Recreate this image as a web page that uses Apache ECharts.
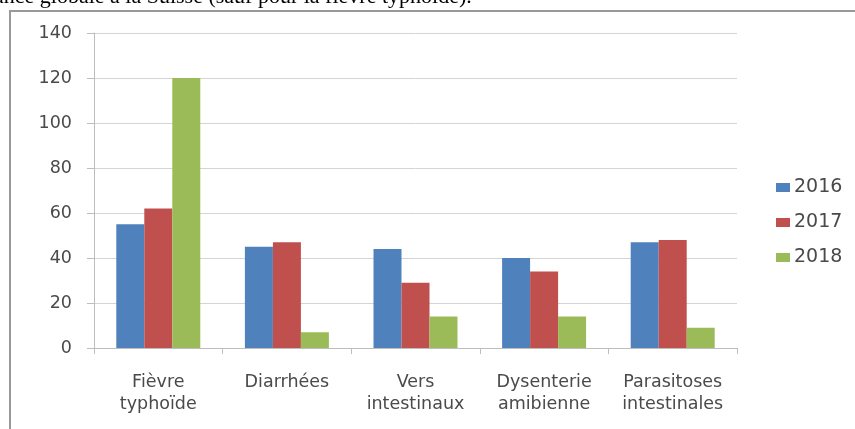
<!DOCTYPE html>
<html>
<head>
<meta charset="utf-8">
<script src="https://cdn.jsdelivr.net/npm/echarts@6/dist/echarts.min.js"></script>
<style>
  html, body { margin: 0; padding: 0; background: #ffffff; }
  #chart { width: 855px; height: 429px; }
</style>
</head>
<body>
<div id="chart"></div>
<script>
// Maladies recensées par année
const categories = ['Fièvre\ntyphoïde', 'Diarrhées', 'Vers\nintestinaux', 'Dysenterie\namibienne', 'Parasitoses\nintestinales'];
const years = ['2016', '2017', '2018'];
const values2016 = [55, 45, 44, 40, 47];
const values2017 = [62, 47, 29, 34, 48];
const values2018 = [120, 7, 14, 14, 9];
const yTicks = { min: 0, max: 140, interval: 20 };
const colors = ['#4F81BD', '#C0504D', '#9BBB59'];
const caption = 'ance globale à la Suisse (sauf pour la fièvre typhoïde).';

const textColor = '#4a4a4a';
const labelFont = 'DejaVu Sans';

const chart = echarts.init(document.getElementById('chart'), null, { renderer: 'canvas' });

const seriesData = [values2016, values2017, values2018];

chart.setOption({
  animation: false,
  backgroundColor: '#ffffff',
  color: colors,
  grid: { left: 94, top: 33, right: 118, bottom: 81, containLabel: false },
  legend: {
    orient: 'vertical',
    left: 776,
    top: 178,
    padding: 0,
    itemWidth: 14,
    itemHeight: 9,
    itemGap: 16,
    icon: 'rect',
    textStyle: { color: textColor, fontSize: 19, fontFamily: labelFont, padding: [0, 0, 0, -1] },
    data: years
  },
  xAxis: {
    type: 'category',
    data: categories,
    axisLine: { show: true, lineStyle: { color: '#bdbdbd', width: 1 } },
    axisTick: { show: true, alignWithLabel: false, length: 6, lineStyle: { color: '#bdbdbd' } },
    axisLabel: {
      color: textColor, fontSize: 17.5, fontFamily: labelFont,
      lineHeight: 22, margin: 23, interval: 0
    },
    splitLine: { show: false }
  },
  yAxis: {
    type: 'value',
    min: yTicks.min,
    max: yTicks.max,
    interval: yTicks.interval,
    axisLine: { show: true, lineStyle: { color: '#bdbdbd', width: 1 } },
    axisTick: { show: true, length: 7, lineStyle: { color: '#bdbdbd' } },
    axisLabel: { color: textColor, fontSize: 17.5, fontFamily: labelFont, margin: 22 },
    splitLine: { show: true, lineStyle: { color: '#d4d4d4', width: 1 } }
  },
  series: years.map((y, i) => ({
    name: y,
    type: 'bar',
    data: seriesData[i],
    barWidth: 28,
    barGap: '0%',
    itemStyle: { color: colors[i] }
  })),
  graphic: [
    {
      type: 'polyline',
      silent: true,
      shape: { points: [[10, 440], [10, 11], [870, 11]] },
      style: { stroke: '#999999', lineWidth: 2, fill: null }
    },
    {
      type: 'text',
      silent: true,
      left: -6,
      top: -14,
      style: {
        text: caption,
        fill: '#000000',
        font: '22px "Liberation Serif", "DejaVu Serif", serif'
      }
    }
  ]
});
</script>
</body>
</html>
